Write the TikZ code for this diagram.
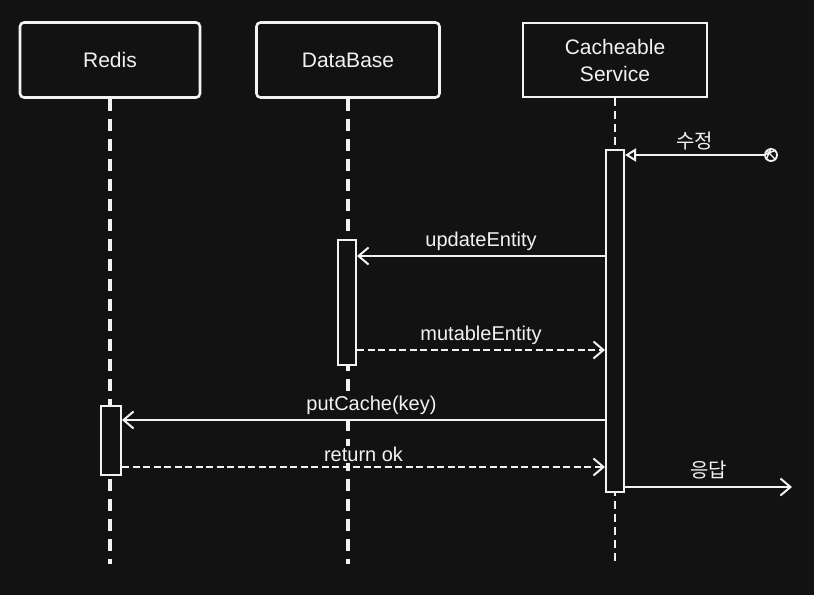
\documentclass[tikz,border=0pt]{standalone}
\usepackage{fontspec}
\setmainfont{Liberation Sans}
\newfontfamily\krfont{Noto Sans CJK KR}
\usetikzlibrary{arrows.meta}
\definecolor{bgdark}{HTML}{121212}
\definecolor{chalk}{HTML}{F2F2F2}

\tikzset{
  actor/.style={draw=chalk, line width=2.6pt, fill=bgdark, text=chalk, rounded corners=4pt,
    align=center, inner sep=0pt, font=\fontsize{21}{27}\selectfont},
  lifeline/.style={draw=chalk, line width=3.2pt, dash pattern=on 12pt off 8pt},
  bar/.style={draw=chalk, line width=2pt, fill=bgdark, minimum width=18pt, inner sep=0pt},
  msg/.style={draw=chalk, line width=2pt, -{Straight Barb[length=10pt,width=17pt,line width=2pt]}},
  reply/.style={msg, dash pattern=on 7pt off 3.5pt},
  msglabel/.style={text=chalk, fill=bgdark, font=\fontsize{20}{22}\selectfont, inner sep=1pt},
  krlabel/.style={msglabel, font=\krfont\fontsize{20}{22}\selectfont}
}

\begin{document}
\begin{tikzpicture}[x=1pt, y=-1pt]
    \fill[bgdark] (0,0) rectangle (814,595);
    \useasboundingbox (0,0) rectangle (814,595);

    % Participants
    \node[actor, minimum width=180pt, minimum height=75pt] (redis) at (110,60) {Redis};
    \node[actor, minimum width=183pt, minimum height=75pt] (db) at (348,60) {DataBase};
    \node[actor, line width=1.8pt, minimum width=184pt, minimum height=74pt, rounded corners=0pt] (svc) at (615,60) {Cacheable\\Service};

    % Lifelines
    \coordinate (bottom) at (0,564);
    \draw[lifeline] (redis.south) -- (redis.south |- bottom);
    \draw[lifeline] (db.south) -- (db.south |- bottom);
    \draw[lifeline, line width=2.6pt, dash pattern=on 8pt off 5pt] (svc.south) -- (svc.south |- bottom);

    % Activation bars
    \node[bar, minimum height=342pt] (actSvc) at (615,321) {};
    \node[bar, minimum height=125pt] (actDb) at (347,302.5) {};
    \node[bar, minimum width=20pt, minimum height=69pt] (actRedis) at (111,440.5) {};

    % Found message
    \node[circle, draw=chalk, line width=1.8pt, minimum size=12pt, inner sep=0pt] (src) at (771,155) {};
    \draw[chalk, line width=1.4pt] (src.north west) -- (src.south east) (src.north) -- (src.south west) (src.north east) -- (src.west);
    \draw[draw=chalk, line width=2pt, -{Triangle[open, length=11pt, width=13pt, line width=2pt]}]
        (src.west) -- node[krlabel, above=3pt] {수정} (actSvc.east |- src);

    % Messages
    \coordinate (m1) at (0,256);
    \coordinate (m2) at (0,350);
    \coordinate (m3) at (0,420);
    \coordinate (m4) at (0,467);
    \coordinate (m5) at (0,487);
    \coordinate (out) at (792,0);
    \draw[msg] (actSvc.west |- m1) -- node[msglabel, above=3pt] {updateEntity} (actDb.east |- m1);
    \draw[reply] (actDb.east |- m2) -- node[msglabel, above=3pt] {mutableEntity} (actSvc.west |- m2);
    \draw[msg] (actSvc.west |- m3) -- node[msglabel, above=3pt, xshift=8pt] {putCache(key)} (actRedis.east |- m3);
    \draw[reply] (actRedis.east |- m4) -- node[msglabel, above=3pt] {return ok} (actSvc.west |- m4);
    \draw[msg] (actSvc.east |- m5) -- node[krlabel, above=6pt] {응답} (out |- m5);
\end{tikzpicture}
\end{document}
